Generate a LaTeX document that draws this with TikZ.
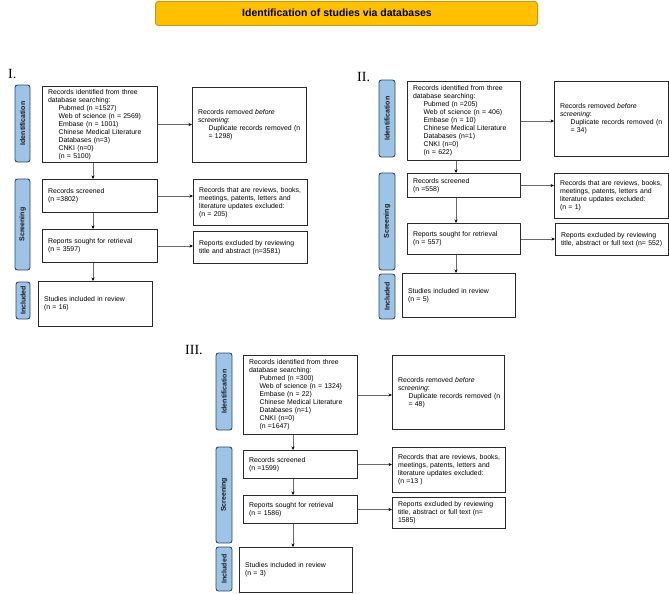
\documentclass[tikz,border=0pt]{standalone}
\usepackage{fontspec}
\setmainfont{Liberation Sans}
\newfontfamily\numfont{Liberation Serif}
\usetikzlibrary{arrows.meta}
\definecolor{hdrfill}{HTML}{FFC000}
\definecolor{hdrdraw}{HTML}{C99A06}
\definecolor{barfill}{HTML}{9DC3E6}
\definecolor{bardraw}{HTML}{2E4A66}
\definecolor{arrgray}{HTML}{6A6A6A}
\definecolor{boxdraw}{HTML}{2A2A2A}
\newcommand\mytab[1]{\noindent\begin{tabular}{@{}l@{}}#1\end{tabular}}
\newcommand\myind{\hspace*{10.5pt}}
\tikzset{
 box/.style={draw=boxdraw, line width=1.05pt, anchor=north west, align=left, inner xsep=5.5pt, inner ysep=0pt, font=\fontsize{6.9}{8}\selectfont},
 sidebar/.style={draw=bardraw, fill=barfill, line width=0.9pt, rounded corners=2.5pt, rotate=90, inner sep=0pt, font=\bfseries\fontsize{7}{8}\selectfont, text=black!90},
 arr/.style={draw=arrgray, line width=0.6pt, -{Stealth[length=3.5pt,width=3pt,black]}},
 numeral/.style={font=\numfont\fontsize{14}{14}\selectfont, inner sep=0pt, anchor=west},
}
\newcommand\mybox[6]{\pgfmathsetmacro\mytw{#4-11}\node[box, text width=\mytw pt, minimum height=#5pt] (#1) at (#2,#3) {\mytab{#6}};}
\newcommand\myside[6]{\pgfmathsetmacro\myw{#5-#3}\pgfmathsetmacro\myh{#4-#2}\pgfmathsetmacro\mycx{(#2+#4)/2}\pgfmathsetmacro\mycy{(#3+#5)/2}\node[sidebar, minimum width=\myw pt, minimum height=\myh pt] (#1) at (\mycx,\mycy) {#6};}
\begin{document}
\begin{tikzpicture}[x=1pt,y=-1pt]
\useasboundingbox (0,0) rectangle (669,594);
% header
\node[draw=hdrdraw, fill=hdrfill, line width=1pt, rounded corners=3pt, minimum width=382pt, minimum height=24pt, anchor=north west, inner sep=0pt] (hdr) at (155,1) {};
\node[font=\bfseries\fontsize{10.5}{12}\selectfont, inner sep=0pt] (hdrtxt) at (337,13) {Identification of studies via databases};
% numerals
\node[numeral] (nI) at (8,74) {I.};
\node[numeral] (nII) at (357,77) {II.};
\node[numeral] (nIII) at (185,350) {III.};
% ---------- Panel I ----------
\myside{sIdI}{15}{85}{30}{162}{Identification}
\myside{sScI}{15}{179}{30}{270}{Screening}
\myside{sInI}{16}{282}{30}{319}{Included}
\mybox{idI}{42}{86}{115}{76}{Records identified from three\\database searching:\\\myind Pubmed (n =1527)\\\myind Web of science (n = 2569)\\\myind Embase (n = 1001)\\\myind Chinese Medical Literature\\\myind Databases (n=3)\\\myind CNKI (n=0)\\\myind (n = 5100)}
\mybox{remI}{192}{87}{114}{75}{Records removed \textit{before}\\\textit{screening}:\\\myind Duplicate records removed (n\\\myind = 1298)}
\mybox{scrI}{42}{179}{115}{33}{Records screened\\(n =3802)}
\mybox{exAI}{193}{179}{114}{46}{Records that are reviews, books,\\meetings, patents, letters and\\literature updates excluded:\\(n = 205)}
\mybox{repI}{42}{229}{115}{33}{Reports sought for retrieval\\(n = 3597)}
\mybox{exBI}{193}{231}{114}{32}{Reports excluded by reviewing\\title and abstract (n=3581)}
\mybox{incI}{38}{281}{114}{45}{Studies included in review\\(n = 16)}
\coordinate (vI) at (93,0);
\draw[arr] (idI.south -| vI) -- (scrI.north -| vI);
\draw[arr] (scrI.south -| vI) -- (repI.north -| vI);
\draw[arr] (repI.south -| vI) -- (incI.north -| vI);
\draw[arr] (idI.east) -- (idI.east -| remI.west);
\draw[arr] (scrI.east) -- (scrI.east -| exAI.west);
\draw[arr] (repI.east) -- (repI.east -| exBI.west);
% ---------- Panel II ----------
\myside{sIdII}{379}{80}{395}{157}{Identification}
\myside{sScII}{379}{173}{395}{270}{Screening}
\myside{sInII}{379}{274}{395}{319}{Included}
\mybox{idII}{407}{81}{113}{79}{Records identified from three\\database searching:\\\myind Pubmed (n =205)\\\myind Web of science (n = 406)\\\myind Embase (n = 10)\\\myind Chinese Medical Literature\\\myind Databases (n=1)\\\myind CNKI (n=0)\\\myind (n = 622)}
\mybox{remII}{554}{81}{114}{75}{Records removed \textit{before}\\\textit{screening}:\\\myind Duplicate records removed (n\\\myind = 34)}
\mybox{scrII}{407}{173}{113}{24}{Records screened\\(n =558)}
\mybox{exAII}{554}{173}{114}{45}{Records that are reviews, books,\\meetings, patents, letters and\\literature updates excluded:\\(n = 1)}
\mybox{repII}{407}{223}{113}{31}{Reports sought for retrieval\\(n = 557)}
\mybox{exBII}{555}{223}{113}{32}{Reports excluded by reviewing\\title, abstract or full text (n= 552)}
\mybox{incII}{402}{273}{113}{44}{Studies included in review\\(n = 5)}
\coordinate (vII) at (456,0);
\draw[arr] (idII.south -| vII) -- (scrII.north -| vII);
\draw[arr] (scrII.south -| vII) -- (repII.north -| vII);
\draw[arr] (repII.south -| vII) -- (incII.north -| vII);
\draw[arr] (idII.east) -- (idII.east -| remII.west);
\draw[arr] (scrII.east) -- (scrII.east -| exAII.west);
\draw[arr] (repII.east) -- (repII.east -| exBII.west);
% ---------- Panel III ----------
\myside{sIdIII}{216}{353}{232}{430}{Identification}
\myside{sScIII}{216}{447}{232}{543}{Screening}
\myside{sInIII}{216}{547}{232}{591}{Included}
\mybox{idIII}{243}{355}{114}{79}{Records identified from three\\database searching:\\\myind Pubmed (n =300)\\\myind Web of science (n = 1324)\\\myind Embase (n = 22)\\\myind Chinese Medical Literature\\\myind Databases (n=1)\\\myind CNKI (n=0)\\\myind (n =1647)}
\mybox{remIII}{392}{355}{112}{74}{Records removed \textit{before}\\\textit{screening}:\\\myind Duplicate records removed (n\\\myind = 48)}
\mybox{scrIII}{243}{450}{114}{28}{Records screened\\(n =1599)}
\mybox{exAIII}{392}{447}{113}{45}{Records that are reviews, books,\\meetings, patents, letters and\\literature updates excluded:\\(n =13 )}
\mybox{repIII}{243}{495}{114}{28}{Reports sought for retrieval\\(n = 1586)}
\mybox{exBIII}{392}{497}{113}{31}{Reports excluded by reviewing\\title, abstract or full text (n=\\1585)}
\mybox{incIII}{239}{547}{113}{45}{Studies included in review\\(n = 3)}
\coordinate (vIII) at (293,0);
\draw[arr] (idIII.south -| vIII) -- (scrIII.north -| vIII);
\draw[arr] (scrIII.south -| vIII) -- (repIII.north -| vIII);
\draw[arr] (repIII.south -| vIII) -- (incIII.north -| vIII);
\draw[arr] (idIII.east) -- (idIII.east -| remIII.west);
\draw[arr] (scrIII.east) -- (scrIII.east -| exAIII.west);
\draw[arr] (repIII.east) -- (repIII.east -| exBIII.west);
\end{tikzpicture}
\end{document}
